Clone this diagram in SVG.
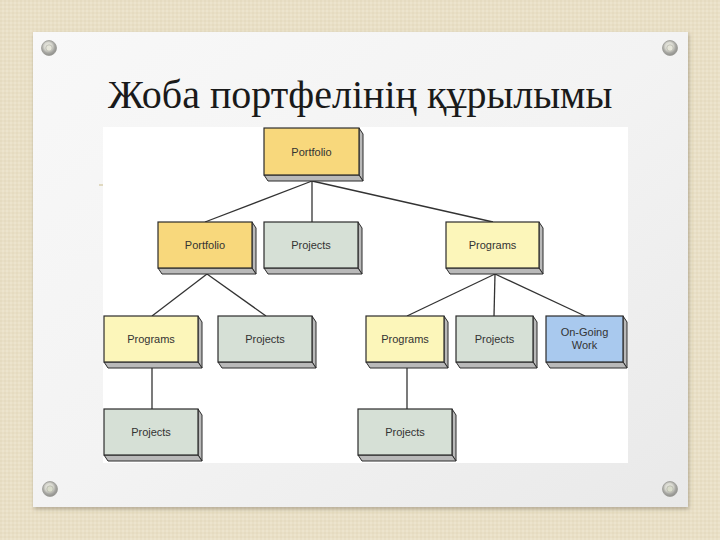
<svg xmlns="http://www.w3.org/2000/svg" width="720" height="540" viewBox="0 0 720 540">
  <defs>
    <pattern id="canvas" width="4" height="4" patternUnits="userSpaceOnUse">
      <rect width="4" height="4" fill="#e9dfc6"/>
      <rect x="0" y="0" width="2" height="2" fill="#e3d8bc" opacity="0.6"/>
      <rect x="2" y="2" width="2" height="2" fill="#efe7d2" opacity="0.6"/>
    </pattern>
    <linearGradient id="panelGrad" x1="0" y1="0" x2="1" y2="1">
      <stop offset="0" stop-color="#f8f8f8"/>
      <stop offset="0.5" stop-color="#f3f3f3"/>
      <stop offset="1" stop-color="#e9e9e9"/>
    </linearGradient>
    <radialGradient id="screw" cx="0.45" cy="0.4" r="0.6">
      <stop offset="0" stop-color="#f4f4ec"/>
      <stop offset="0.45" stop-color="#d8d8d0"/>
      <stop offset="0.7" stop-color="#a9a9a4"/>
      <stop offset="1" stop-color="#8e8e8a"/>
    </radialGradient>
    <filter id="shadow" x="-5%" y="-5%" width="110%" height="110%">
      <feDropShadow dx="1" dy="2" stdDeviation="2" flood-color="#6b6450" flood-opacity="0.45"/>
    </filter>
  </defs>
  <style>
    .face { stroke: #2b2b2b; stroke-width: 1.2; }
    .slab { fill: #b9b9b9; stroke: #2b2b2b; stroke-width: 1; stroke-linejoin: round; }
    .portfolio { fill: #f8d87c; }
    .programs { fill: #fcf6ba; }
    .projects { fill: #d6e0d6; }
    .ongoing { fill: #a9c9ee; }
    .lbl { font-family: "Liberation Sans Narrow", "Arial Narrow", "Liberation Sans", sans-serif; font-size: 11px; fill: #333333; text-anchor: middle; }
    .conn line { stroke: #333333; stroke-width: 1.3; }
    .title { font-family: "Liberation Serif", "Times New Roman", serif; font-size: 40px; fill: #1a1a1a; }
  </style>

  <rect width="720" height="540" fill="url(#canvas)"/>
  <rect x="33" y="32" width="655" height="475" fill="url(#panelGrad)" filter="url(#shadow)"/>

  <g id="screws">
    <circle cx="49" cy="48" r="7.5" fill="url(#screw)" stroke="#9a9a95" stroke-width="0.8"/>
    <circle cx="49" cy="48" r="3.2" fill="#e6e6da" stroke="#a8a8a0" stroke-width="0.6"/>
    <circle cx="670" cy="48" r="7.5" fill="url(#screw)" stroke="#9a9a95" stroke-width="0.8"/>
    <circle cx="670" cy="48" r="3.2" fill="#e6e6da" stroke="#a8a8a0" stroke-width="0.6"/>
    <circle cx="50" cy="489" r="7.5" fill="url(#screw)" stroke="#9a9a95" stroke-width="0.8"/>
    <circle cx="50" cy="489" r="3.2" fill="#d9dccb" stroke="#a8a8a0" stroke-width="0.6"/>
    <circle cx="670" cy="489" r="7.5" fill="url(#screw)" stroke="#9a9a95" stroke-width="0.8"/>
    <circle cx="670" cy="489" r="3.2" fill="#d9dccb" stroke="#a8a8a0" stroke-width="0.6"/>
  </g>

  <text class="title" x="108" y="108">Жоба портфелінің құрылымы</text>

  <line x1="99" y1="185" x2="104" y2="185" stroke="#d9cfae" stroke-width="1.5"/>
  <rect x="103" y="127" width="525" height="336" fill="#ffffff"/>

  <g class="conn" id="connectors">
    <line x1="312" y1="181" x2="205" y2="222"/>
    <line x1="312" y1="181" x2="312" y2="222"/>
    <line x1="312" y1="181" x2="493" y2="222"/>
    <line x1="207" y1="274" x2="152" y2="316"/>
    <line x1="207" y1="274" x2="266" y2="316"/>
    <line x1="152" y1="368" x2="152" y2="409"/>
    <line x1="495" y1="274" x2="407" y2="316"/>
    <line x1="495" y1="274" x2="494" y2="316"/>
    <line x1="495" y1="274" x2="585" y2="316"/>
    <line x1="407" y1="368" x2="407" y2="409"/>
  </g>

  <g id="n-portfolio-top">
    <polygon class="slab" points="359,128 363,134 363,181 359,175"/>
    <polygon class="slab" points="264,175 359,175 363,181 268,181"/>
    <rect class="face portfolio" x="264" y="128" width="95" height="47"/>
    <text class="lbl" x="311.5" y="155.5">Portfolio</text>
  </g>

  <g id="n-portfolio-2">
    <polygon class="slab" points="252,222 256,228 256,274 252,268"/>
    <polygon class="slab" points="158,268 252,268 256,274 162,274"/>
    <rect class="face portfolio" x="158" y="222" width="94" height="46"/>
    <text class="lbl" x="205" y="249">Portfolio</text>
  </g>

  <g id="n-projects-2">
    <polygon class="slab" points="358,222 362,228 362,274 358,268"/>
    <polygon class="slab" points="264,268 358,268 362,274 268,274"/>
    <rect class="face projects" x="264" y="222" width="94" height="46"/>
    <text class="lbl" x="311" y="249">Projects</text>
  </g>

  <g id="n-programs-2">
    <polygon class="slab" points="539,222 543,228 543,274 539,268"/>
    <polygon class="slab" points="446,268 539,268 543,274 450,274"/>
    <rect class="face programs" x="446" y="222" width="93" height="46"/>
    <text class="lbl" x="492.5" y="249">Programs</text>
  </g>

  <g id="n-programs-3a">
    <polygon class="slab" points="198,316 202,322 202,368 198,362"/>
    <polygon class="slab" points="104,362 198,362 202,368 108,368"/>
    <rect class="face programs" x="104" y="316" width="94" height="46"/>
    <text class="lbl" x="151" y="343">Programs</text>
  </g>

  <g id="n-projects-3a">
    <polygon class="slab" points="312,316 316,322 316,368 312,362"/>
    <polygon class="slab" points="218,362 312,362 316,368 222,368"/>
    <rect class="face projects" x="218" y="316" width="94" height="46"/>
    <text class="lbl" x="265" y="343">Projects</text>
  </g>

  <g id="n-programs-3b">
    <polygon class="slab" points="444,316 448,322 448,368 444,362"/>
    <polygon class="slab" points="366,362 444,362 448,368 370,368"/>
    <rect class="face programs" x="366" y="316" width="78" height="46"/>
    <text class="lbl" x="405" y="343">Programs</text>
  </g>

  <g id="n-projects-3b">
    <polygon class="slab" points="533,316 537,322 537,368 533,362"/>
    <polygon class="slab" points="456,362 533,362 537,368 460,368"/>
    <rect class="face projects" x="456" y="316" width="77" height="46"/>
    <text class="lbl" x="494.5" y="343">Projects</text>
  </g>

  <g id="n-ongoing">
    <polygon class="slab" points="623,316 627,322 627,368 623,362"/>
    <polygon class="slab" points="546,362 623,362 627,368 550,368"/>
    <rect class="face ongoing" x="546" y="316" width="77" height="46"/>
    <text class="lbl" x="584.5" y="336">On-Going</text>
    <text class="lbl" x="584.5" y="349">Work</text>
  </g>

  <g id="n-projects-4a">
    <polygon class="slab" points="198,409 202,415 202,461 198,455"/>
    <polygon class="slab" points="104,455 198,455 202,461 108,461"/>
    <rect class="face projects" x="104" y="409" width="94" height="46"/>
    <text class="lbl" x="151" y="436">Projects</text>
  </g>

  <g id="n-projects-4b">
    <polygon class="slab" points="452,409 456,415 456,461 452,455"/>
    <polygon class="slab" points="358,455 452,455 456,461 362,461"/>
    <rect class="face projects" x="358" y="409" width="94" height="46"/>
    <text class="lbl" x="405" y="436">Projects</text>
  </g>
</svg>
